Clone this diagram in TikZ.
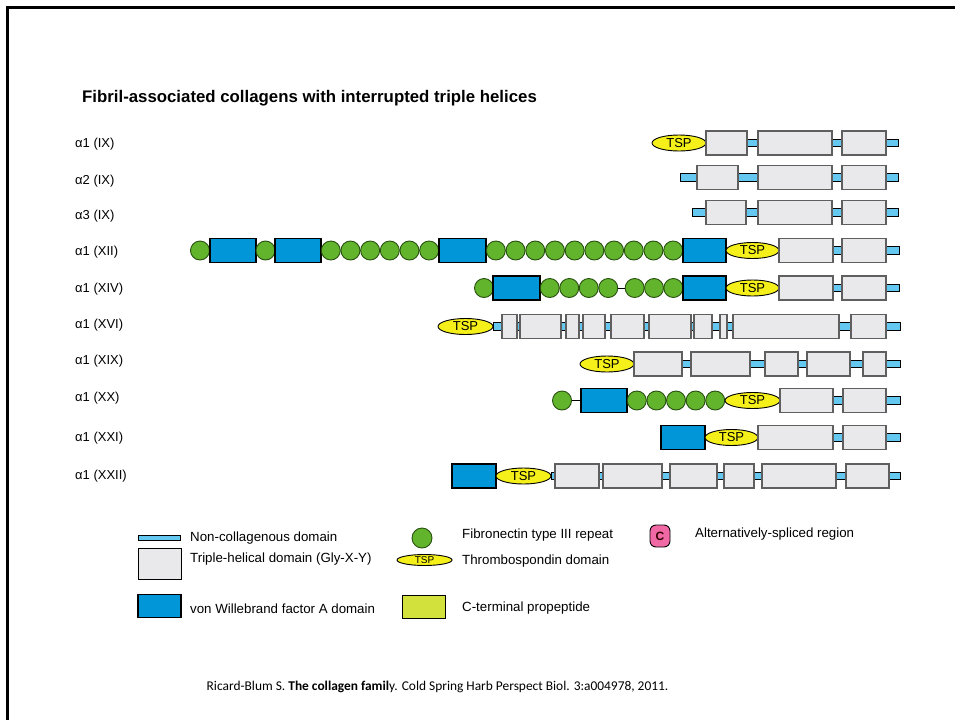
\documentclass[tikz,border=0pt]{standalone}
\usepackage{fontspec}
\setmainfont{Liberation Sans}
\newfontfamily\capfont{Carlito}
\usetikzlibrary{shapes.geometric}
\definecolor{ncblue}{RGB}{100,200,240}
\definecolor{thgray}{RGB}{233,233,235}
\definecolor{thborder}{RGB}{95,95,95}
\definecolor{vwablue}{RGB}{0,150,215}
\definecolor{fngreen}{RGB}{98,180,45}
\definecolor{fnborder}{RGB}{40,80,15}
\definecolor{tspyellow}{RGB}{245,240,25}
\definecolor{ctgreen}{RGB}{210,225,60}
\definecolor{spink}{RGB}{240,105,165}
\tikzset{
  ncbar/.style={rectangle, fill=ncblue, draw=black, line width=0.9pt, minimum height=7.5, inner sep=0},
  thbox/.style={rectangle, fill=thgray, draw=thborder, line width=1.3pt, minimum height=24, inner sep=0},
  vwabox/.style={rectangle, fill=vwablue, draw=black, line width=1.1pt, minimum height=24, inner sep=0},
  fnrep/.style={circle, fill=fngreen, draw=fnborder, line width=0.9pt, minimum size=19, inner sep=0},
  tspdom/.style={ellipse, fill=tspyellow, draw=black, line width=0.9pt, minimum height=16, inner sep=0, font=\fontsize{13}{14}\selectfont},
  rowlab/.style={anchor=west, inner sep=0, font=\fontsize{13}{15}\selectfont},
  legtext/.style={anchor=west, inner sep=0, font=\fontsize{13.3}{15}\selectfont},
  link/.style={draw=black, line width=0.9pt}
}
% name, x1, x2, y
\newcommand\thb[4]{\node[thbox, minimum width={#3-#2}] (#1) at ({(#2+#3)/2},#4) {};}
\newcommand\vwb[4]{\node[vwabox, minimum width={#3-#2}] (#1) at ({(#2+#3)/2},#4) {};}
\newcommand\ncb[4]{\node[ncbar, minimum width={#3-#2}] (#1) at ({(#2+#3)/2},#4) {};}
\newcommand\tspd[4]{\node[tspdom, minimum width={#3-#2}] (#1) at ({(#2+#3)/2},#4) {TSP};}
\begin{document}
\begin{tikzpicture}[x=1pt,y=-1pt]
\useasboundingbox (0,0) rectangle (955,720);
\fill[white] (0,0) rectangle (955,720);
% frame
\draw[line width=2.7pt] (7.5,720) -- (7.5,7.5) -- (955,7.5);

% title
\node[anchor=west, inner sep=0, font=\bfseries\fontsize{16.8}{18}\selectfont] (title) at (82,98) {Fibril-associated collagens with interrupted triple helices};

% row labels
\node[rowlab] (l1) at (75,144) {α1 (IX)};
\node[rowlab] (l2) at (75,181) {α2 (IX)};
\node[rowlab] (l3) at (75,216) {α3 (IX)};
\node[rowlab] (l4) at (75,252) {α1 (XII)};
\node[rowlab] (l5) at (75,289) {α1 (XIV)};
\node[rowlab] (l6) at (75,325) {α1 (XVI)};
\node[rowlab] (l7) at (75,361) {α1 (XIX)};
\node[rowlab] (l8) at (75,398) {α1 (XX)};
\node[rowlab] (l9) at (75,438) {α1 (XXI)};
\node[rowlab] (l10) at (75,476) {α1 (XXII)};

% Row 1
\ncb{r1n}{706}{898}{143}
\tspd{r1t}{652}{706}{143}
\thb{r1a}{706}{747}{143}
\thb{r1b}{758}{832}{143}
\thb{r1c}{842}{886}{143}

% Row 2
\ncb{r2n}{680}{898}{177.5}
\thb{r2a}{697}{738}{177.5}
\thb{r2b}{758}{832}{177.5}
\thb{r2c}{842}{886}{177.5}

% Row 3
\ncb{r3n}{692}{898}{212.5}
\thb{r3a}{706}{746}{212.5}
\thb{r3b}{758}{832}{212.5}
\thb{r3c}{842}{886}{212.5}

% Row 4
\node[fnrep] (r4f0) at (200,250.5) {};
\vwb{r4v1}{210}{256}{250.5}
\node[fnrep] (r4f1) at (265.5,250.5) {};
\vwb{r4v2}{275}{321}{250.5}
\foreach \k in {0,...,5} {\node[fnrep] (r4g\k) at ({330.8+19.67*\k},250.5) {};}
\vwb{r4v3}{439}{486}{250.5}
\foreach \k in {0,...,9} {\node[fnrep] (r4h\k) at ({495.85+19.7*\k},250.5) {};}
\vwb{r4v4}{683}{726}{250.5}
\ncb{r4n}{779}{899}{250.5}
\tspd{r4t}{726}{779}{250.5}
\thb{r4a}{779}{833}{250.5}
\thb{r4b}{842}{886}{250.5}

% Row 5
\node[fnrep] (r5f0) at (484,288) {};
\vwb{r5v1}{493}{540}{288}
\foreach \k in {0,...,3} {\node[fnrep] (r5g\k) at ({549.75+19.5*\k},288) {};}
\foreach \k in {0,...,2} {\node[fnrep] (r5h\k) at ({634.67+19.33*\k},288) {};}
\draw[link] (r5g3) -- (r5h0);
\vwb{r5v2}{683}{726}{288}
\ncb{r5n}{779}{899}{288}
\tspd{r5t}{726}{779}{288}
\thb{r5a}{779}{833}{288}
\thb{r5b}{842}{886}{288}

% Row 6
\ncb{r6n}{493}{900}{326.5}
\tspd{r6t}{438}{493}{326.5}
\thb{r6a}{502}{517}{326.5}
\thb{r6b}{520}{561}{326.5}
\thb{r6c}{566}{579}{326.5}
\thb{r6d}{583}{605}{326.5}
\thb{r6e}{611}{644}{326.5}
\thb{r6f}{649}{691}{326.5}
\thb{r6g}{694}{712}{326.5}
\thb{r6h}{720}{727}{326.5}
\thb{r6i}{733}{839}{326.5}
\thb{r6j}{851}{886}{326.5}

% Row 7
\ncb{r7n}{634}{900}{364}
\tspd{r7t}{580}{634}{364}
\thb{r7a}{634}{682}{364}
\thb{r7b}{691}{750}{364}
\thb{r7c}{765}{798}{364}
\thb{r7d}{807}{850}{364}
\thb{r7e}{863}{886}{364}

% Row 8
\node[fnrep] (r8f0) at (562,400.5) {};
\vwb{r8v1}{581}{627}{400.5}
\draw[link] (r8f0) -- (r8v1);
\foreach \k in {0,...,4} {\node[fnrep] (r8g\k) at ({636.8+19.6*\k},400.5) {};}
\ncb{r8n}{780}{900}{400.5}
\tspd{r8t}{725}{780}{400.5}
\thb{r8a}{780}{833}{400.5}
\thb{r8b}{843}{886}{400.5}

% Row 9
\vwb{r9v1}{661}{705}{437.5}
\ncb{r9n}{758}{900}{437.5}
\tspd{r9t}{705}{758}{437.5}
\thb{r9a}{758}{833}{437.5}
\thb{r9b}{843}{886}{437.5}

% Row 10
\vwb{r10v1}{452}{496}{476}
\ncb{r10n}{551}{900}{476}
\tspd{r10t}{496}{551}{476}
\thb{r10a}{555}{599}{476}
\thb{r10b}{603}{662}{476}
\thb{r10c}{670}{717}{476}
\thb{r10d}{724}{754}{476}
\thb{r10e}{762}{836}{476}
\thb{r10f}{846}{889}{476}

% Legend
\node[ncbar, minimum width=42, minimum height=5] (kNC) at (159,538) {};
\node[legtext] (tNC) at (190,538) {Non-collagenous domain};
\node[thbox, draw=black, line width=1pt, minimum width=43, minimum height=31] (kTH) at (159.5,564) {};
\node[legtext] (tTH) at (190,559) {Triple-helical domain (Gly-X-Y)};
\node[vwabox, minimum width=43, minimum height=23] (kVW) at (159.5,606) {};
\node[legtext] (tVW) at (190,609) {von Willebrand factor A domain};
\node[fnrep, minimum size=20] (kFN) at (422,538) {};
\node[legtext] (tFN) at (462,535) {Fibronectin type III repeat};
\node[tspdom, minimum width=55, minimum height=11, font=\fontsize{10}{11}\selectfont] (kTS) at (424.5,560) {TSP};
\node[legtext] (tTS) at (462,561) {Thrombospondin domain};
\node[rectangle, fill=ctgreen, draw=black, line width=1pt, minimum width=43, minimum height=23, inner sep=0] (kCT) at (423.5,606.5) {};
\node[legtext] (tCT) at (462,608) {C-terminal propeptide};
\node[rectangle, rounded corners=6pt, fill=spink, draw=black, line width=0.9pt, minimum width=20, minimum height=22, inner sep=0, font=\bfseries\fontsize{12}{13}\selectfont, text=black!80!red] (kAS) at (660,536) {C};
\node[legtext] (tAS) at (695,534) {Alternatively-spliced region};

% Caption
\node[inner sep=0, font=\capfont\fontsize{13.4}{15}\selectfont] (cap) at (437.5,687) {Ricard-Blum S. \textbf{The collagen famil}y. Cold Spring Harb Perspect Biol. 3:a004978, 2011.};
\end{tikzpicture}
\end{document}
